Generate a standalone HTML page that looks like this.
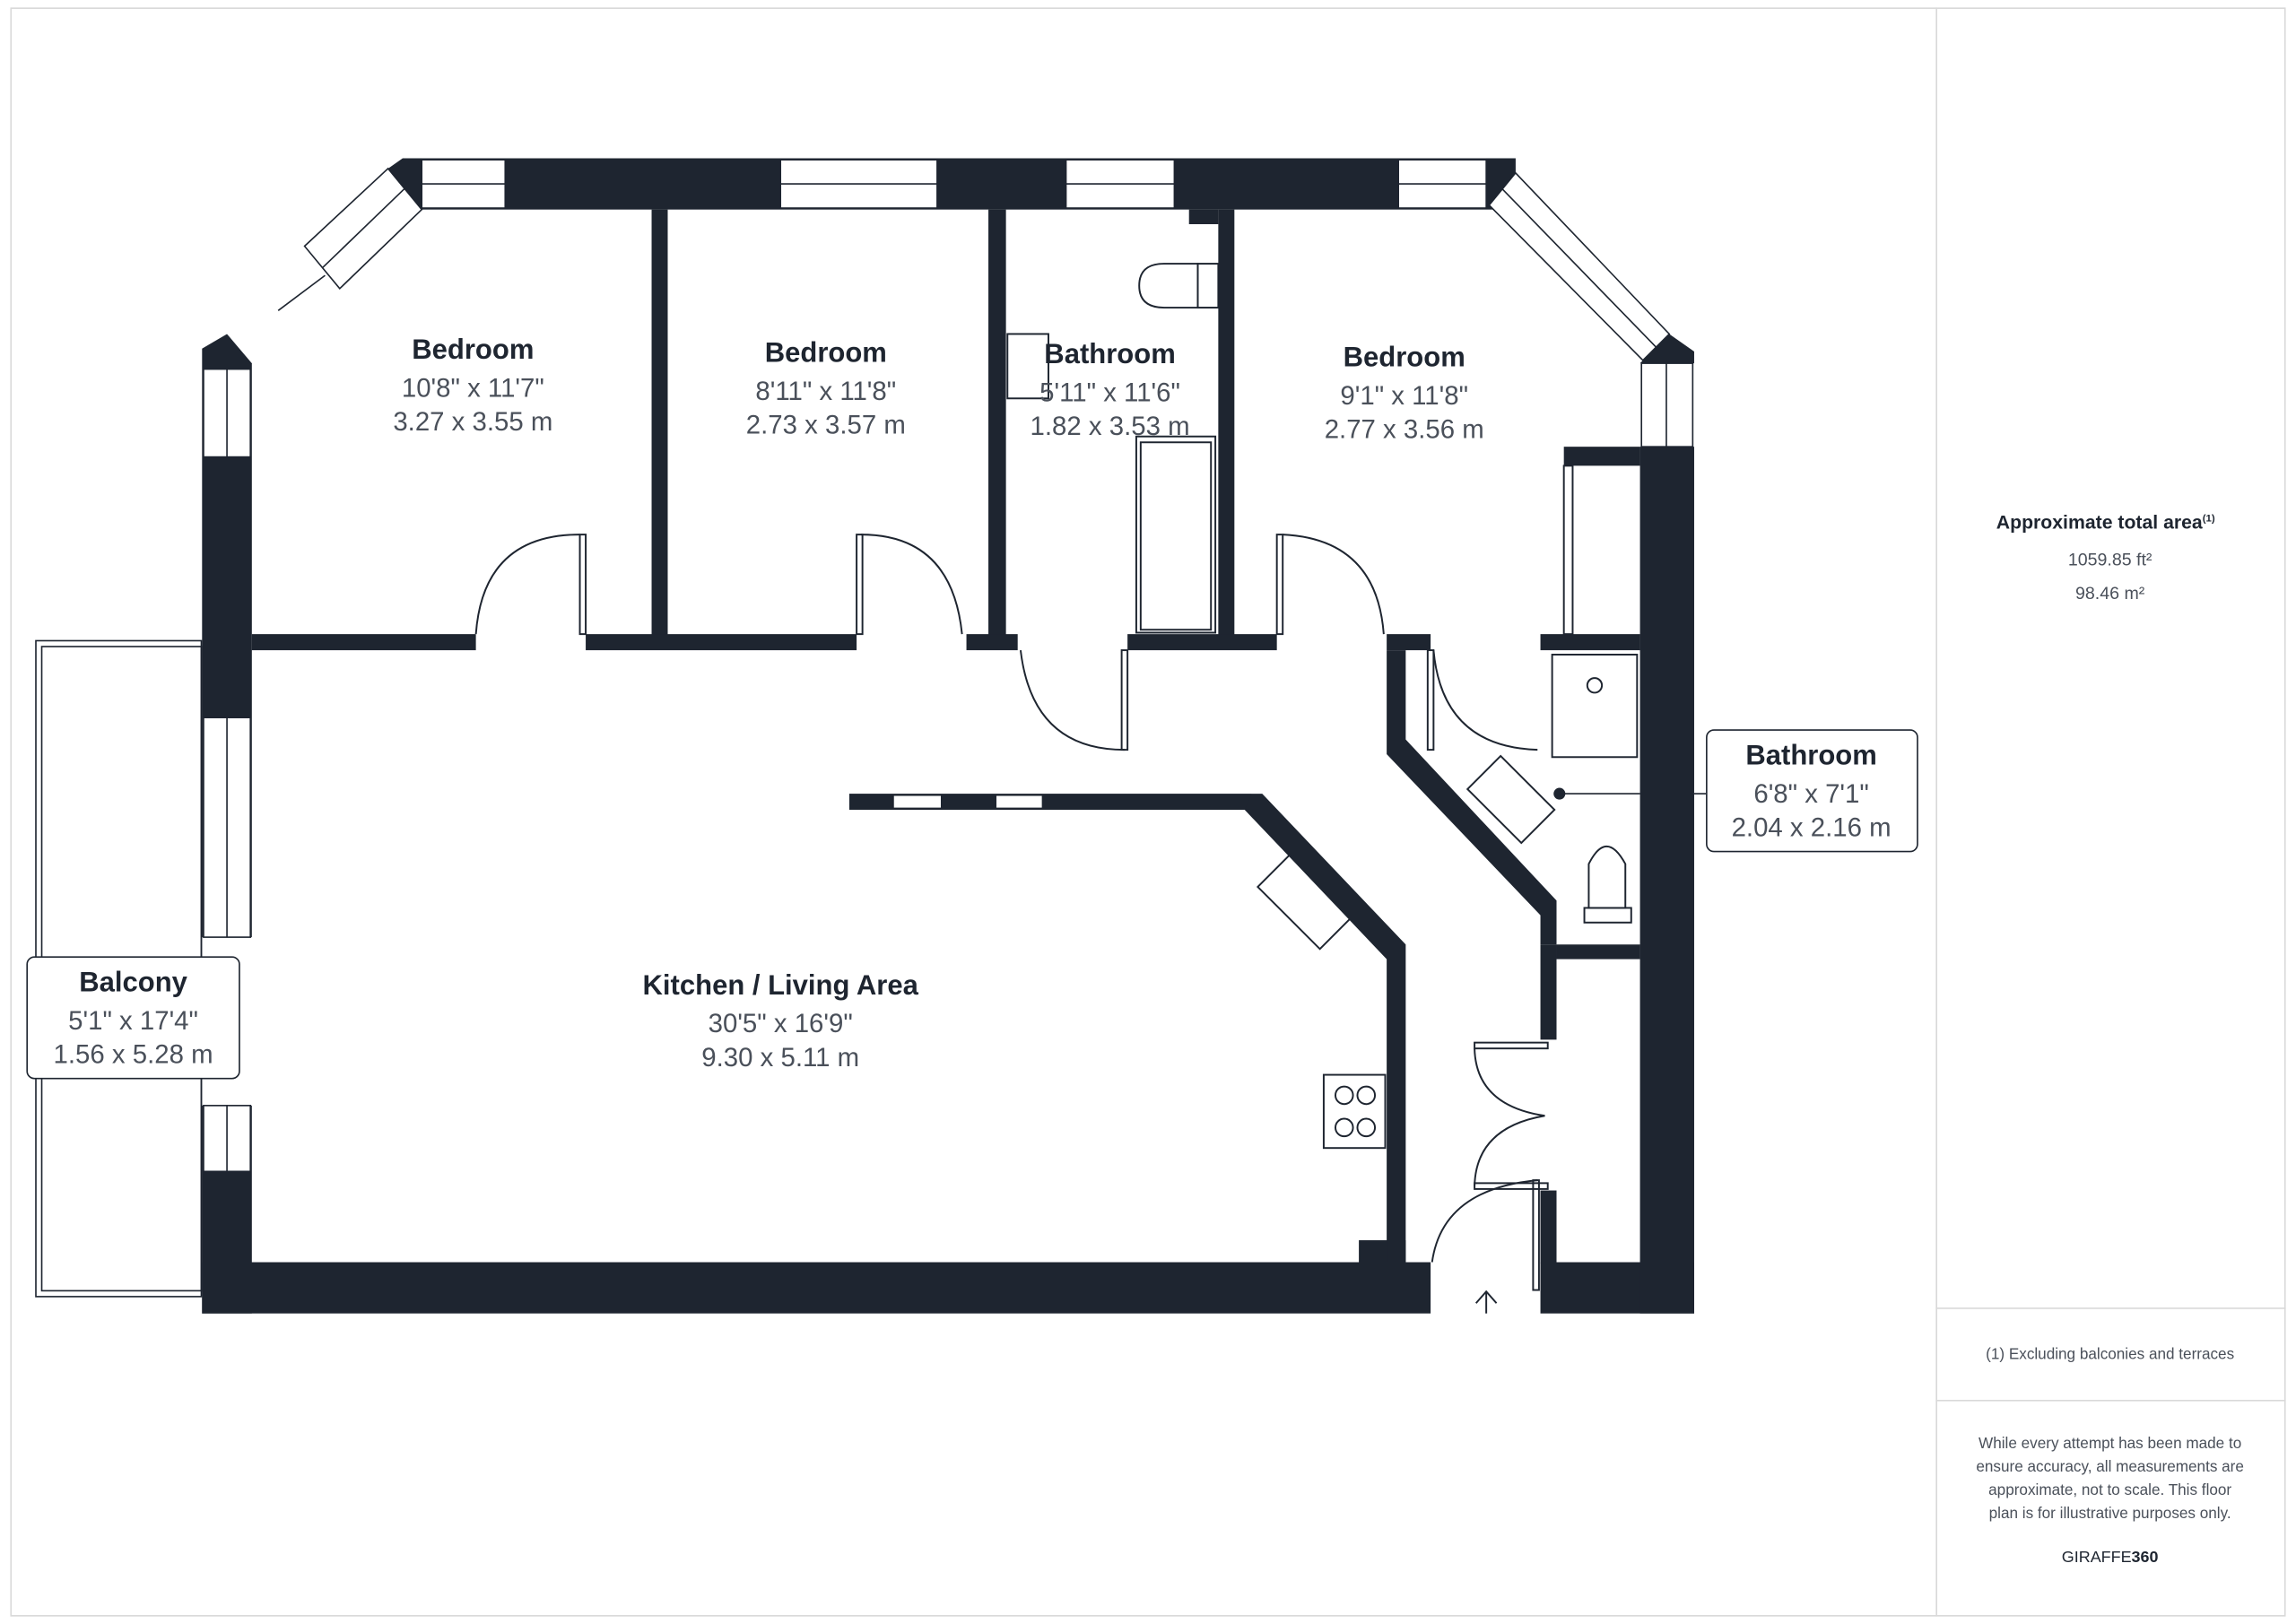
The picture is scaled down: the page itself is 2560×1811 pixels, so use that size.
<!DOCTYPE html>
<html><head><meta charset="utf-8"><style>html,body{margin:0;padding:0;background:#fff}svg{display:block}</style></head>
<body>
<svg width="2560" height="1811" viewBox="0 0 1568 1109" xmlns="http://www.w3.org/2000/svg" font-family="Liberation Sans, sans-serif">
<rect x="0" y="0" width="1568" height="1109" fill="#fff"/>
<rect x="7.5" y="5.5" width="1553" height="1098" fill="none" stroke="#d9d9d9" stroke-width="1"/>
<line x1="1322.5" y1="5" x2="1322.5" y2="1104" stroke="#d9d9d9"/>
<line x1="1322" y1="893.5" x2="1561" y2="893.5" stroke="#d9d9d9"/>
<line x1="1322" y1="956.5" x2="1561" y2="956.5" stroke="#d9d9d9"/>

<g fill="#1e2530">
<!-- top wall -->
<rect x="275" y="108" width="760" height="35"/>
<!-- left wall -->
<polygon points="138,238 155,228 172,248 172,640 138,640"/>
<rect x="138" y="755" width="34" height="142"/>
<!-- bottom wall -->
<rect x="138" y="862" width="839" height="35"/>
<rect x="928" y="847" width="32" height="16"/>
<rect x="1052" y="862" width="105" height="35"/>
<rect x="1120" y="305" width="37" height="592"/>
<rect x="1068" y="305" width="52" height="13"/>
<rect x="1052" y="813" width="11" height="50"/>
<rect x="1052" y="645" width="11" height="65"/>
<rect x="1063" y="645" width="57" height="10"/>
<!-- top corners -->
<polygon points="265,115 275,108 288,108 288,143"/>
<polygon points="1015,108 1035,108 1035,118 1015,143"/>
<polygon points="1120,248 1140,228 1157,240 1157,248"/>
<!-- interior verticals -->
<rect x="445" y="143" width="11" height="300"/>
<rect x="675" y="143" width="12" height="300"/>
<rect x="832" y="143" width="11" height="300"/>
<rect x="812" y="143" width="20" height="10"/>
<!-- horizontals -->
<rect x="172" y="433" width="153" height="11"/>
<rect x="400" y="433" width="185" height="11"/>
<rect x="660" y="433" width="35" height="11"/>
<rect x="770" y="433" width="102" height="11"/>
<rect x="947" y="433" width="30" height="11"/>
<rect x="1052" y="433" width="68" height="11"/>
<!-- corridor diag -->
<polygon points="947,444 960,444 960,505 1063,615 1063,645 1052,645 1052,625 947,515"/>
<!-- kitchen partial wall -->
<rect x="580" y="542" width="275" height="11"/>
<polygon points="855,542 862,542 960,645 960,862 947,862 947,655 850,553"/>
</g>
<!-- windows -->
<g fill="#fff" stroke="#1e2530" stroke-width="1">
<rect x="288" y="109" width="57" height="33"/><line x1="288" y1="125.5" x2="345" y2="125.5"/>
<rect x="533" y="109" width="107" height="33"/><line x1="533" y1="125.5" x2="640" y2="125.5"/>
<rect x="728" y="109" width="74" height="33"/><line x1="728" y1="125.5" x2="802" y2="125.5"/>
<rect x="955" y="109" width="60" height="33"/><line x1="955" y1="125.5" x2="1015" y2="125.5"/>
<rect x="139" y="252" width="32" height="60"/><line x1="155" y1="252" x2="155" y2="312"/>
<rect x="139" y="490" width="32" height="150"/><line x1="155" y1="490" x2="155" y2="640"/>
<rect x="139" y="755" width="32" height="45"/><line x1="155" y1="755" x2="155" y2="800"/>
<rect x="1121" y="248" width="35" height="57"/><line x1="1138" y1="248" x2="1138" y2="305"/>
<polygon points="1035,118 1140,228 1122,246 1017,140"/><line x1="1026" y1="129" x2="1131" y2="237"/>
<polygon points="265,115 288,143 232,197 208,168"/><line x1="276" y1="129" x2="220" y2="183"/>
<line x1="222" y1="188" x2="190" y2="212"/>
<rect x="610" y="543" width="33" height="9"/><rect x="680" y="543" width="32" height="9"/>
</g>
<!-- balcony -->
<rect x="24.5" y="437.5" width="113" height="448" fill="none" stroke="#1e2530"/>
<rect x="28.5" y="441.5" width="109" height="440" fill="none" stroke="#1e2530"/>
<!-- doors -->
<g fill="none" stroke="#1e2530" stroke-width="1.2">
<path d="M325,433 Q330,365 396,365"/><rect x="396" y="365" width="4" height="68"/>
<path d="M657,433 Q650,365 588,365"/><rect x="585" y="365" width="4" height="68"/>
<path d="M697,444 Q705,512 768,512"/><rect x="766" y="444" width="4" height="68"/>
<path d="M945,433 Q940,368 876,365"/><rect x="872" y="365" width="4" height="68"/>
<path d="M979,444 Q985,510 1050,512"/><rect x="975" y="444" width="4" height="68"/>
<path d="M1007,716 Q1008,755 1055,762 Q1008,770 1007,810"/>
<rect x="1007" y="712" width="50" height="4"/><rect x="1007" y="808" width="50" height="4"/>
<path d="M978,862 Q985,812 1050,806"/><rect x="1047" y="806" width="4" height="75"/>
<line x1="1015" y1="897" x2="1015" y2="882"/><path d="M1008,890 L1015,882 L1022,890"/>
<!-- fixtures -->
<path d="M818,180 L795,180 Q778,180 778,195 Q778,210 795,210 L818,210 Z"/><line x1="818" y1="180" x2="818" y2="210"/><rect x="818" y="180" width="14" height="30"/>
<rect x="688" y="228" width="28" height="44"/><rect x="776" y="298" width="54" height="134"/><rect x="779" y="302" width="48" height="128"/>
<rect x="1060" y="447" width="58" height="70"/><circle cx="1089" cy="468" r="5"/>
<path d="M1085,620 L1085,590 Q1097,566 1110,590 L1110,620 Z"/><rect x="1082" y="620" width="32" height="10"/>
<rect x="998" y="525" width="52" height="32" transform="rotate(45 1022 553)"/>
<rect x="853" y="596" width="60" height="32" transform="rotate(45 883 624)"/>
<rect x="904" y="734" width="42" height="50"/>
<circle cx="918" cy="748" r="6"/><circle cx="933" cy="748" r="6"/><circle cx="918" cy="770" r="6"/><circle cx="933" cy="770" r="6"/>
<rect x="1068" y="318" width="6" height="115"/>
</g>
<circle cx="1065" cy="542" r="4" fill="#1e2530"/>
<line x1="1065" y1="542" x2="1120" y2="542" stroke="#1e2530"/>
<line x1="1157" y1="542" x2="1165" y2="542" stroke="#1e2530"/>
<!-- label boxes -->
<rect x="18.5" y="653.5" width="145" height="83" rx="5" fill="#fff" stroke="#1e2530"/>
<rect x="1165.5" y="498.5" width="144" height="83" rx="5" fill="#fff" stroke="#1e2530"/>
<!-- labels -->
<g text-anchor="middle" fill="#1e2530">
<g font-weight="bold" font-size="19">
<text x="323" y="245">Bedroom</text><text x="564" y="247">Bedroom</text><text x="758" y="248">Bathroom</text><text x="959" y="250">Bedroom</text>
<text x="533" y="679">Kitchen / Living Area</text><text x="91" y="677">Balcony</text><text x="1237" y="522">Bathroom</text>
</g>
<g font-size="18" fill="#4a505a">
<text x="323" y="271">10'8" x 11'7"</text><text x="323" y="294">3.27 x 3.55 m</text>
<text x="564" y="273">8'11" x 11'8"</text><text x="564" y="296">2.73 x 3.57 m</text>
<text x="758" y="274">5'11" x 11'6"</text><text x="758" y="297">1.82 x 3.53 m</text>
<text x="959" y="276">9'1" x 11'8"</text><text x="959" y="299">2.77 x 3.56 m</text>
<text x="533" y="705">30'5" x 16'9"</text><text x="533" y="728">9.30 x 5.11 m</text>
<text x="91" y="703">5'1" x 17'4"</text><text x="91" y="726">1.56 x 5.28 m</text>
<text x="1237" y="548">6'8" x 7'1"</text><text x="1237" y="571">2.04 x 2.16 m</text>
</g>
<text x="1438" y="361" font-size="13" font-weight="bold">Approximate total area<tspan font-size="7" dy="-5">(1)</tspan></text>
<text x="1441" y="386" font-size="12" fill="#4a505a">1059.85 ft²</text>
<text x="1441" y="409" font-size="12" fill="#4a505a">98.46 m²</text>
<text x="1441" y="928" font-size="10.5" fill="#4a505a">(1) Excluding balconies and terraces</text>
<g font-size="10.5" fill="#4a505a">
<text x="1441" y="989">While every attempt has been made to</text>
<text x="1441" y="1005">ensure accuracy, all measurements are</text>
<text x="1441" y="1021">approximate, not to scale. This floor</text>
<text x="1441" y="1037">plan is for illustrative purposes only.</text>
</g>
<text x="1441" y="1067" font-size="11" fill="#1e2530">GIRAFFE<tspan font-weight="bold">360</tspan></text>
</g>
</svg>
</body></html>
